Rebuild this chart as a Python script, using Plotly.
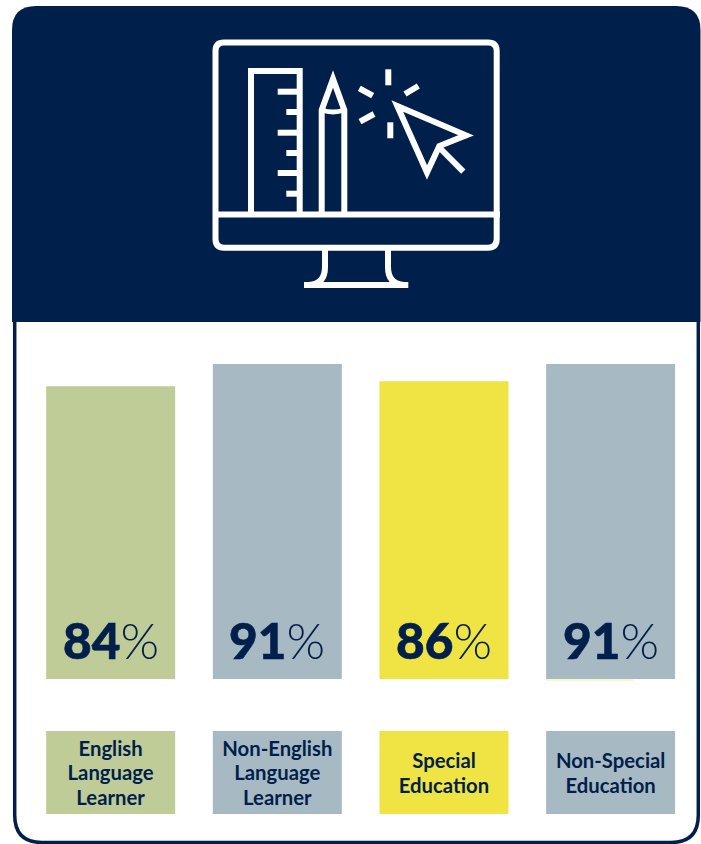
import plotly.graph_objects as go

# ---- data ----
categories = ["English Language Learner", "Non-English Language Learner",
              "Special Education", "Non-Special Education"]
tile_lines = [["English", "Language", "Learner"], ["Non-English", "Language", "Learner"],
              ["Special", "Education"], ["Non-Special", "Education"]]
bar_values = [84.6, 91, 86, 91]          # bar heights as drawn
percent_labels = ["84", "91", "86", "91"]  # printed values
tile_values = [1, 1, 1, 1]
colors = ["#BFCC97", "#A7BAC4", "#F0E344", "#A7BAC4"]

NAVY = "#001F4B"
W, H = 701, 844
FONT = "Lato"


def px(x):
    return x / W


def py(y):
    return 1 - y / H


def path(*cmds):
    """Build an SVG path in paper coordinates from pixel-based commands."""
    out = []
    for c in cmds:
        if isinstance(c, str):
            out.append(c)
        else:
            out.append(f"{px(c[0]):.5f},{py(c[1]):.5f}")
    return " ".join(out)


def shape_path(p, line=None, fill=None, width=6, layer="above"):
    return dict(type="path", xref="paper", yref="paper", path=p, layer=layer,
                fillcolor=fill if fill else "rgba(0,0,0,0)",
                line=dict(color=line if line else "rgba(0,0,0,0)", width=width if line else 0))


shapes = []
# header panel
shapes.append(shape_path(path("M", (12, 322), "L", (12, 30), "Q", (12, 6), (36, 6), "L", (676, 6),
                              "Q", (700.5, 6), (700.5, 30), "L", (700.5, 322), "Z"),
                         fill=NAVY, layer="below"))
# lower outline
shapes.append(shape_path(path("M", (14.7, 322), "L", (14.7, 815), "Q", (14.7, 842.5), (42, 842.5),
                              "L", (671, 842.5), "Q", (698.3, 842.5), (698.3, 815), "L", (698.3, 322)),
                         line=NAVY, width=3.5, layer="below"))
# faint sliver under the last bar
shapes.append(shape_path(path("M", (546, 680), "L", (634, 680)), line="#F3EDA0", width=1, layer="below"))

WHITE = "#FFFFFF"
# monitor
shapes.append(shape_path(path("M", (224, 42.5), "L", (488, 42.5), "Q", (496.7, 42.5), (496.7, 51),
                              "L", (496.7, 239), "Q", (496.7, 247.7), (488, 247.7), "L", (224, 247.7),
                              "Q", (215.5, 247.7), (215.5, 239), "L", (215.5, 51), "Q", (215.5, 42.5), (224, 42.5), "Z"),
                         line=WHITE))
shapes.append(shape_path(path("M", (213, 214.5), "L", (500, 214.5)), line=WHITE))
# stand
shapes.append(shape_path(path("M", (325, 250), "L", (325, 267), "Q", (325, 284), (309, 285)), line=WHITE))
shapes.append(shape_path(path("M", (388, 250), "L", (388, 267), "Q", (388, 284), (404, 285)), line=WHITE))
shapes.append(shape_path(path("M", (304, 285), "L", (408.3, 285)), line=WHITE))
# ruler
shapes.append(shape_path(path("M", (251, 214), "L", (251, 71), "L", (299.7, 71), "L", (299.7, 214)), line=WHITE))
for y, x0 in [(91.7, 277.7), (112, 286.3), (132.7, 277.7), (153, 286.3), (173, 277.7), (193.7, 286.3)]:
    shapes.append(shape_path(path("M", (x0, y), "L", (299, y)), line=WHITE))
# pencil
shapes.append(shape_path(path("M", (321.7, 214), "L", (321.7, 110), "L", (333, 79), "L", (344.3, 110), "L", (344.3, 214)), line=WHITE))
shapes.append(shape_path(path("M", (321.7, 110), "Q", (333, 114), (344.3, 110)), line=WHITE, width=5))
# sparks
for a, b in [((388.3, 69.3), (388.3, 85.3)), ((359.3, 88.3), (372.7, 95.7)), ((405, 94), (418.3, 86)),
             ((360, 121.7), (374, 114)), ((390.3, 122.3), (390.3, 138.3))]:
    shapes.append(shape_path(path("M", a, "L", b), line=WHITE))
# cursor
shapes.append(shape_path(path("M", (397.3, 106), "L", (466, 135.3), "L", (439.3, 146), "L", (427, 172.5), "Z"), line=WHITE))
shapes.append(shape_path(path("M", (439.3, 147.5), "L", (463.3, 171.7)), line=WHITE))

# label text: inner font size sets glyphs, outer size sets the 24.5 px line pitch
tile_text = ["<br>".join(f'<span style="font-size:20.3px">{w}</span>' for w in ls) for ls in tile_lines]

fig = go.Figure()
fig.add_bar(x=categories, y=bar_values, marker=dict(color=colors, line=dict(width=0)),
            yaxis="y", xaxis="x", showlegend=False, hoverinfo="skip")
fig.add_bar(x=categories, y=tile_values, marker=dict(color=colors, line=dict(width=0)),
            yaxis="y2", xaxis="x", showlegend=False, hoverinfo="skip",
            text=tile_text, textposition="inside", insidetextanchor="middle", textangle=0,
            constraintext="none",
            insidetextfont=dict(family=FONT, size=18.85, color=NAVY, weight=700))

annotations = []
for cat, lab in zip(categories, percent_labels):
    annotations.append(dict(
        x=cat, xref="x", y=py(639.5), yref="paper", xanchor="center", yanchor="middle",
        showarrow=False, align="center",
        text=(f'<span style="font-weight:900;stroke:{NAVY};stroke-width:0.6px">{lab}</span>'
              f'<span style="font-weight:300">%</span>'),
        font=dict(family=FONT, size=49.5, color=NAVY)))

fig.update_layout(
    width=W, height=H, margin=dict(l=0, r=0, t=0, b=0, pad=0, autoexpand=False),
    paper_bgcolor="white", plot_bgcolor="rgba(0,0,0,0)",
    bargap=1 - 129 / 166.67, showlegend=False,
    xaxis=dict(domain=[px(27.35), px(693.95)], visible=False, type="category",
               categoryorder="array", categoryarray=categories, fixedrange=True),
    yaxis=dict(domain=[py(679), py(364)], range=[0, 91], visible=False, fixedrange=True),
    yaxis2=dict(domain=[py(814), py(731)], range=[0, 1], visible=False, fixedrange=True, anchor="x"),
    shapes=shapes, annotations=annotations,
)

fig.write_html("out.html", config=dict(displayModeBar=False),
               post_script="document.body.style.margin='0';")
